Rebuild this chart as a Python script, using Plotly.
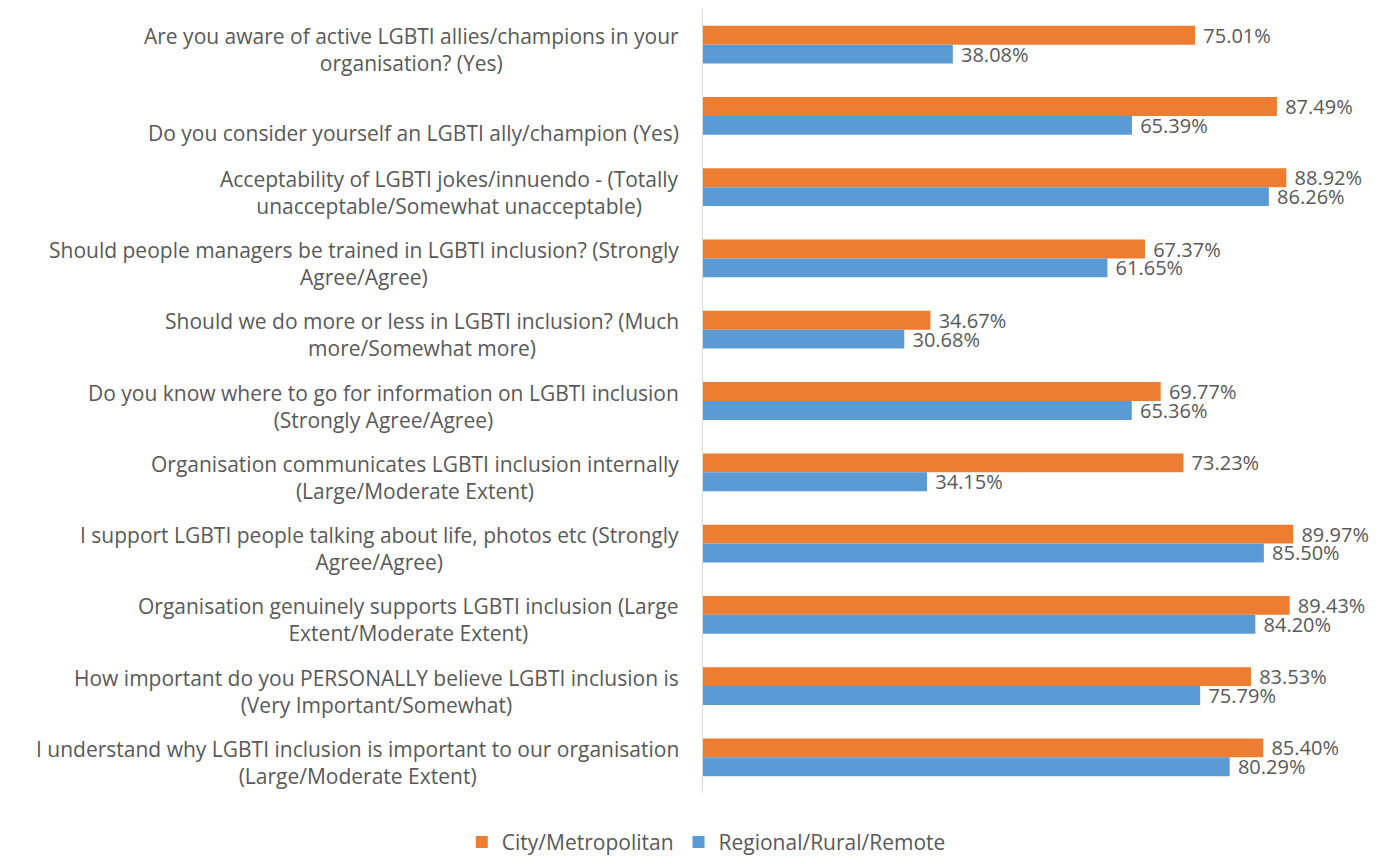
import plotly.graph_objects as go

categories = [
    "Are you aware of active LGBTI allies/champions in your<br>organisation? (Yes)",
    "Do you consider yourself an LGBTI ally/champion (Yes)",
    "Acceptability of LGBTI jokes/innuendo - (Totally<br>unacceptable/Somewhat unacceptable)",
    "Should people managers be trained in LGBTI inclusion? (Strongly<br>Agree/Agree)",
    "Should we do more or less in LGBTI inclusion? (Much<br>more/Somewhat more)",
    "Do you know where to go for information on LGBTI inclusion<br>(Strongly Agree/Agree)",
    "Organisation communicates LGBTI inclusion internally<br>(Large/Moderate Extent)",
    "I support LGBTI people talking about life, photos etc (Strongly<br>Agree/Agree)",
    "Organisation genuinely supports LGBTI inclusion (Large<br>Extent/Moderate Extent)",
    "How important do you PERSONALLY believe LGBTI inclusion is<br>(Very Important/Somewhat)",
    "I understand why LGBTI inclusion is important to our organisation<br>(Large/Moderate Extent)",
]
city = [75.01, 87.49, 88.92, 67.37, 34.67, 69.77, 73.23, 89.97, 89.43, 83.53, 85.40]
regional = [38.08, 65.39, 86.26, 61.65, 30.68, 65.36, 34.15, 85.50, 84.20, 75.79, 80.29]
series_names = ["City/Metropolitan", "Regional/Rural/Remote"]

ids = list(range(len(categories)))
FONT = "Open Sans"
GREY = "#595959"

fig = go.Figure()
for name, vals, col in [(series_names[0], city, "#ED7D31"), (series_names[1], regional, "#5B9BD5")]:
    fig.add_trace(go.Bar(
        y=ids, x=vals, name=name, orientation="h",
        marker=dict(color=col, line=dict(width=0)),
        text=["\u00a0" + f"{v:.2f}%" for v in vals], textposition="outside",
        constraintext="none",
        textfont=dict(family=FONT, size=20, color=GREY),
        cliponaxis=False,
    ))

for i, c in zip(ids, categories):
    two_lines = "<br>" in c
    fig.add_annotation(x=0, xref="paper", xanchor="right", xshift=-22,
                       y=i, yref="y", yshift=-5 if two_lines else -17,
                       text=c, showarrow=False, align="center",
                       font=dict(family=FONT, size=21, color=GREY))

fig.update_layout(
    width=1386, height=856,
    margin=dict(l=695, r=35, t=1, b=63),
    barmode="group", bargap=0.47, bargroupgap=0,
    plot_bgcolor="white", paper_bgcolor="white",
    showlegend=True,
    legend=dict(orientation="h", x=0.005, xanchor="center", y=-0.063, yanchor="middle",
                font=dict(family=FONT, size=21, color=GREY), itemwidth=30,
                traceorder="normal"),
    xaxis=dict(range=[0, 100], showgrid=False, showticklabels=False, zeroline=False,
               showline=False, ticks=""),
    yaxis=dict(range=[10.5, -0.5], showticklabels=False, showgrid=False, zeroline=False,
               showline=True, linecolor="#d9d9d9", linewidth=1, ticks=""),
)
fig.write_html("out.html")
